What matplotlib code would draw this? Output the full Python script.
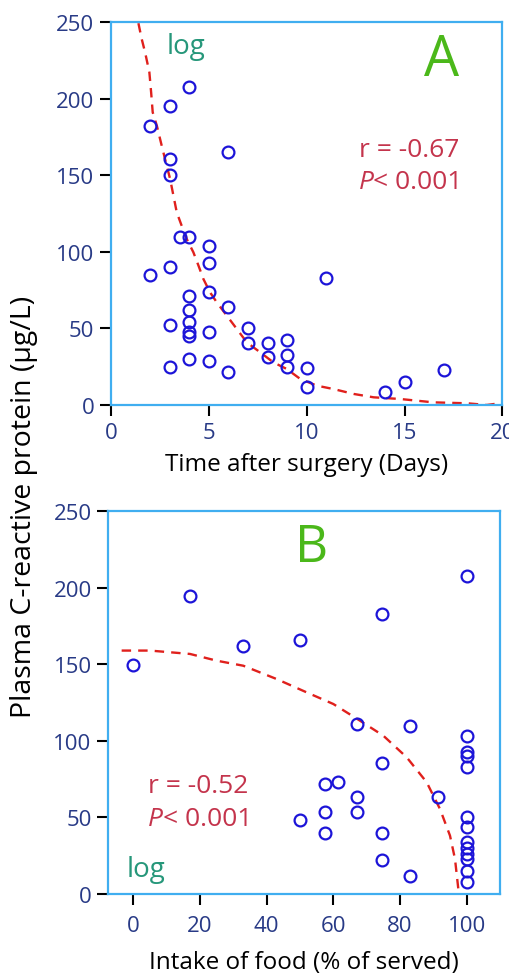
import matplotlib
matplotlib.use('Agg')
from matplotlib import pyplot as plt

# panel A: CRP vs days after surgery
day_a = [4, 3, 2, 6, 3, 3, 3.5, 4, 5, 5, 3, 2, 11, 5, 4, 6, 4, 4, 7, 3,
         4, 4, 5, 9, 8, 7, 9, 8, 4, 5, 3, 9, 10, 6, 17, 15, 10, 14]
crp_a = [207.5, 195, 182.5, 165, 161, 150, 110, 110, 103.6, 92.5, 90, 85,
         82.7, 73.6, 71.4, 63.8, 62.3, 54, 50, 52.5, 47.5, 45, 47.5, 42.7,
         40.3, 40.3, 32.7, 31.6, 30, 29, 25, 25, 24, 21.3, 22.9, 15.2, 11.5, 8.7]

# fitted (log) curve
fit_day_a = [1.4, 1.57, 1.74, 1.96, 2.05, 2.13, 2.34, 2.59, 2.76, 3.02, 3.19,
             3.36, 3.61, 3.87, 4.21, 4.47, 4.72, 5.06, 5.4, 5.92, 6.43, 6.94,
             7.62, 8.3, 8.98, 9.67, 10.52, 11.37, 12.4, 13.42, 14.78, 16.48,
             18.19, 19.2, 19.98]
fit_crp_a = [249.4, 239, 230.4, 217.3, 204.2, 191.2, 182.5, 169.4, 160.7,
             147.6, 136.7, 125.8, 117.1, 108.4, 99.7, 91, 82.3, 73.6, 67.1,
             58.3, 49.6, 40.9, 34.4, 27.8, 23.5, 17, 12.6, 10.4, 7.2, 5, 3.9,
             1.7, 1.1, 0, 1.3]

# panel B: CRP vs food intake
food_b = [100, 17, 74.5, 50, 33, 0, 67, 83, 100, 100, 100, 100, 74.5, 57.5,
          61.5, 67, 91.5, 57.5, 67, 50, 100, 100, 57.5, 74.5, 100, 100, 100,
          100, 74.5, 83, 100, 100]
crp_b = [208, 194.4, 183, 165.7, 162, 149.6, 110.8, 109.5, 103, 93, 90, 83,
         85.6, 71.8, 73.2, 63.1, 63.1, 53.4, 53.4, 48.1, 50, 44, 39.6, 39.6,
         34, 30, 26, 23, 22.2, 12, 15, 8]

fit_food_b = [-3.5, 5, 17, 25, 33, 43, 52, 60, 68, 75, 82, 88, 92, 95, 96.5, 97.5]
fit_crp_b = [159, 159, 156.8, 152.4, 149.1, 140.4, 131.7, 124.1, 113.2, 103.4,
             89.3, 73, 55.5, 38.1, 22.9, 3.3]

xticks_a = [0, 5, 10, 15, 20]
xticks_b = [0, 20, 40, 60, 80, 100]
yticks = [0, 50, 100, 150, 200, 250]

plt.rcParams['font.family'] = ['Open Sans', 'DejaVu Sans']

spine_col = '#40aef0'
tick_col = '#283a86'
pt_col = '#1c14d8'
fit_col = '#e0201c'
stat_col = '#c4344c'
lab_col = '#4bb81a'
log_col = '#26977a'

fig = plt.figure(figsize=(5.09, 9.78), dpi=100)
ax_a = fig.add_axes([0.2181, 0.5849, 0.769, 0.3913])
ax_b = fig.add_axes([0.2128, 0.0849, 0.7695, 0.3913])


def style(ax, xticks, xlim):
    ax.set_xlim(xlim)
    ax.set_ylim(0, 250)
    ax.set_xticks(xticks)
    ax.set_yticks(yticks)
    for s in ax.spines.values():
        s.set_color(spine_col)
        s.set_linewidth(1.6)
    ax.tick_params(direction='out', length=8, width=1.5, color='black',
                   labelcolor=tick_col, labelsize=16, pad=4)


def stats(ax, x, y, rtxt):
    ax.text(x, y, rtxt, color=stat_col, fontsize=19, va='center')
    t = ax.text(x, y - 21.5, 'P', color=stat_col, fontsize=19,
                style='italic', va='center')
    ax.annotate('< 0.001', xy=(1, 0), xycoords=t, va='bottom',
                color=stat_col, fontsize=19)


# A
ax_a.plot(fit_day_a, fit_crp_a, color=fit_col, lw=1.7, ls=(0, (4, 3)))
ax_a.plot(day_a, crp_a, 'o', mfc='none', mec=pt_col, ms=8.5, mew=1.6)
style(ax_a, xticks_a, (0, 20))
ax_a.set_xlabel('Time after surgery (Days)', fontsize=17.5, labelpad=7)
ax_a.text(16.9, 225, 'A', color=lab_col, fontsize=40, ha='center', va='center')
ax_a.text(2.85, 234.5, 'log', color=log_col, fontsize=20, va='center')
stats(ax_a, 12.65, 167.2, 'r = -0.67')

# B
ax_b.plot(fit_food_b, fit_crp_b, color=fit_col, lw=1.7, ls=(0, (4, 3)))
ax_b.plot(food_b, crp_b, 'o', mfc='none', mec=pt_col, ms=8.5, mew=1.6)
style(ax_b, xticks_b, (-7.5, 110))
ax_b.tick_params(axis='x', pad=7)
ax_b.set_xlabel('Intake of food (% of served)', fontsize=17.5, labelpad=10)
ax_b.text(53.6, 226.6, 'B', color=lab_col, fontsize=37, ha='center', va='center')
ax_b.text(-2, 16.3, 'log', color=log_col, fontsize=20, va='center')
stats(ax_b, 4.5, 70.7, 'r = -0.52')

fig.text(0.047, 1 - 507 / 978, 'Plasma C-reactive protein (µg/L)', rotation=90,
         ha='center', va='center', fontsize=20.5)

fig.savefig('out.png', dpi=100)
